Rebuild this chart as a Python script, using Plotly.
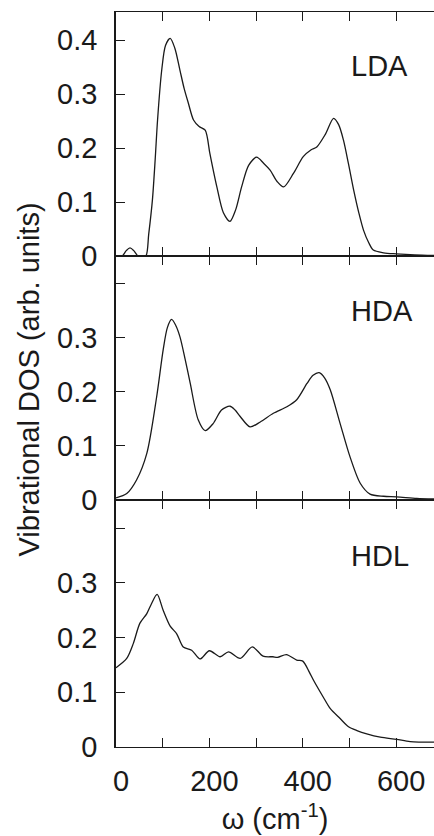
import plotly.graph_objects as go

# ---- data ----
omega_lda = [0, 13, 22, 30, 38, 47, 55, 64, 70, 78, 84, 89, 98, 106, 116, 126, 137, 146, 155, 166, 178, 191, 201, 208, 216, 230, 244, 256, 269, 284, 301, 316, 330, 345, 359, 380, 401, 418, 430, 448, 466, 477, 487, 498, 509, 520, 530, 541, 551, 573, 600, 640, 681]
dos_lda = [0.0, 0.0, 0.010, 0.015, 0.010, 0.0, 0.0, 0.0, 0.040, 0.104, 0.180, 0.252, 0.345, 0.390, 0.403, 0.385, 0.344, 0.310, 0.283, 0.252, 0.240, 0.233, 0.190, 0.160, 0.128, 0.080, 0.064, 0.085, 0.128, 0.168, 0.183, 0.172, 0.159, 0.138, 0.128, 0.153, 0.184, 0.197, 0.202, 0.225, 0.255, 0.243, 0.215, 0.170, 0.122, 0.080, 0.048, 0.025, 0.011, 0.006, 0.004, 0.002, 0.001]

omega_hda = [0, 23, 44, 66, 87, 101, 110, 119, 128, 137, 148, 159, 176, 191, 208, 226, 244, 255, 266, 287, 309, 337, 366, 387, 409, 422, 435, 447, 459, 480, 501, 523, 544, 573, 601, 644, 681]
dos_hda = [0.004, 0.012, 0.037, 0.086, 0.190, 0.277, 0.318, 0.333, 0.322, 0.301, 0.26, 0.215, 0.148, 0.128, 0.141, 0.166, 0.173, 0.166, 0.154, 0.135, 0.144, 0.160, 0.172, 0.185, 0.215, 0.230, 0.235, 0.225, 0.203, 0.141, 0.080, 0.031, 0.011, 0.007, 0.006, 0.003, 0.002]

omega_hdl = [0, 23, 37, 51, 66, 76, 88, 101, 116, 130, 144, 162, 180, 200, 223, 241, 266, 292, 315, 336, 346, 365, 387, 400, 414, 423, 444, 459, 480, 498, 516, 537, 566, 601, 630, 681]
dos_hdl = [0.145, 0.162, 0.189, 0.226, 0.244, 0.262, 0.279, 0.250, 0.221, 0.207, 0.183, 0.177, 0.161, 0.176, 0.165, 0.174, 0.162, 0.183, 0.166, 0.165, 0.164, 0.169, 0.159, 0.157, 0.137, 0.122, 0.091, 0.070, 0.052, 0.037, 0.030, 0.024, 0.018, 0.014, 0.010, 0.009]

panel_names = ["LDA", "HDA", "HDL"]
x_ticks = [0, 100, 200, 300, 400, 500, 600]
x_tick_labels = ["0", "", "200", "", "400", "", "600"]
y_ticks = [0, 0.1, 0.2, 0.3, 0.4]
y_labels_top = ["0", "0.1", "0.2", "0.3", "0.4"]
y_labels_lower = ["0", "0.1", "0.2", "0.3", ""]

FONT = "Liberation Sans, Arial, sans-serif"
FS = 29
INK = "#1a1a1a"

fig = go.Figure()
series = [(omega_lda, dos_lda), (omega_hda, dos_hda), (omega_hdl, dos_hdl)]
for i, (xs, ys) in enumerate(series):
    ax = "" if i == 0 else str(i + 1)
    fig.add_trace(go.Scatter(x=xs, y=ys, mode="lines",
                             line=dict(color=INK, width=1.3, shape="spline", smoothing=0.8),
                             xaxis="x" + ax, yaxis="y" + ax, showlegend=False))

domains = [[0.668, 1.0], [0.336, 0.668], [0.0, 0.336]]
yranges = [[0, 0.452], [0, 0.450], [0, 0.4516]]

layout = dict(
    width=434, height=836,
    margin=dict(l=116, r=0, t=12, b=89),
    paper_bgcolor="white", plot_bgcolor="white",
    font=dict(family=FONT, size=FS, color=INK),
    showlegend=False,
)
for i in range(3):
    ax = "" if i == 0 else str(i + 1)
    layout["xaxis" + ax] = dict(
        domain=[0, 1], range=[0, 681], anchor="y" + ax,
        tickvals=x_ticks, ticktext=x_tick_labels if i == 2 else [""] * len(x_ticks),
        ticks="inside", ticklen=9, tickwidth=1.3, tickcolor=INK,
        showline=True, linecolor=INK, linewidth=1.3, mirror="ticks",
        showgrid=False, zeroline=False, ticklabelshift=5, ticklabelstandoff=8,
    )
    layout["yaxis" + ax] = dict(
        domain=domains[i], range=yranges[i], anchor="x" + ax,
        tickvals=y_ticks, ticktext=y_labels_top if i == 0 else y_labels_lower,
        ticks="inside", ticklen=9, tickwidth=1.3, tickcolor=INK,
        showline=True, linecolor=INK, linewidth=1.5,
        showgrid=False, zeroline=False, ticklabelstandoff=11,
    )
layout["xaxis3"]["title"] = dict(text="ω (cm<sup>-1</sup>)", font=dict(size=FS), standoff=12)

fig.update_layout(**layout)

label_y = [0.352, 0.349, 0.349]
for i, name in enumerate(panel_names):
    ax = "" if i == 0 else str(i + 1)
    fig.add_annotation(text=name, x=500, y=label_y[i], xref="x" + ax, yref="y" + ax,
                       xanchor="left", yanchor="middle", showarrow=False,
                       font=dict(size=FS, family=FONT, color=INK))

fig.add_annotation(text="Vibrational DOS (arb. units)", textangle=-90,
                   x=(28 - 116) / 318, y=(836 - 89 - 379.5) / 735,
                   xref="paper", yref="paper", xanchor="center", yanchor="middle",
                   showarrow=False, font=dict(size=FS, family=FONT, color=INK))

fig.write_html("out.html",
               config={"displayModeBar": False},
               post_script="document.body.style.margin='0';document.body.style.overflow='hidden';")
